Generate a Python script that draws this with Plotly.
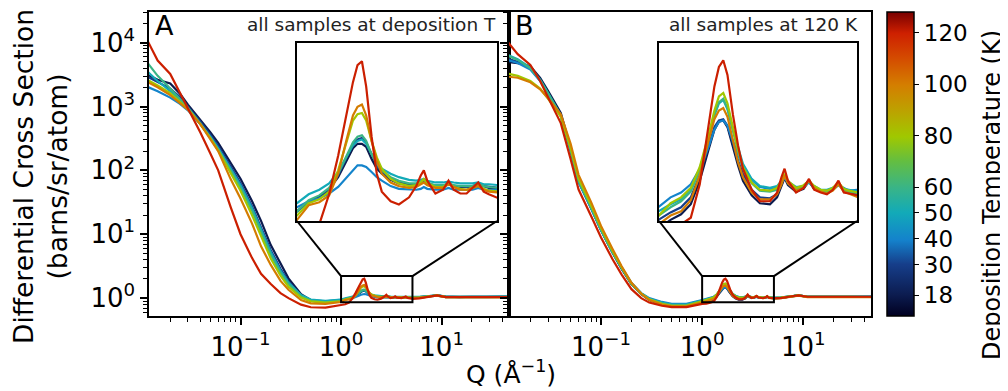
import plotly.graph_objects as go
from plotly.colors import sample_colorscale

# ---------------- data ----------------
temperatures_K = [18, 30, 40, 50, 60, 80, 100, 120]

q_inv_angstrom = [0.0118, 0.015, 0.02, 0.025, 0.03, 0.04, 0.05, 0.06, 0.08, 0.1,
                  0.13, 0.16, 0.2, 0.25, 0.3, 0.4, 0.5, 0.7, 1.0,
                  1.1, 1.2, 1.3, 1.4, 1.5, 1.58, 1.64, 1.7, 1.76, 1.84, 1.92, 2.0,
                  2.15, 2.3, 2.5, 2.65, 2.75, 2.82, 2.9, 3.1, 3.3, 3.45, 3.6, 3.8,
                  4.0, 4.2, 4.4, 4.6, 4.8, 5.2,
                  6.0, 8.0, 9.0, 11, 15, 20, 28, 50]

# Panel A: all samples measured at their deposition temperature
A_18K = [3160, 2630, 2290, 1580, 1070, 617, 398, 269, 132, 74.1, 33.1, 16.2, 6.76, 3.39, 2.04, 1.15, 0.93, 0.85, 0.91,
         0.96, 0.985, 1.025, 1.09, 1.19, 1.27, 1.30, 1.30, 1.28, 1.20, 1.14, 1.11, 1.075, 1.055, 1.045, 1.045, 1.055, 1.06,
         1.05, 1.04, 1.04, 1.05, 1.04, 1.035, 1.035, 1.04, 1.045, 1.04, 1.03, 1.025,
         1.03, 1.08, 1.10, 1.05, 1.04, 1.05, 1.05, 1.06]
A_30K = [2950, 2400, 1910, 1410, 1000, 575, 363, 240, 115, 63.1, 27.5, 13.2, 5.62, 2.88, 1.82, 1.10, 0.91, 0.85, 0.91,
         0.955, 0.975, 1.02, 1.10, 1.21, 1.30, 1.33, 1.34, 1.31, 1.23, 1.16, 1.12, 1.08, 1.06, 1.05, 1.05, 1.055, 1.07,
         1.055, 1.04, 1.04, 1.055, 1.04, 1.04, 1.035, 1.04, 1.05, 1.04, 1.035, 1.03,
         1.04, 1.09, 1.10, 1.06, 1.04, 1.05, 1.05, 1.05]
A_40K = [2040, 1740, 1380, 1100, 871, 525, 339, 224, 107, 58.9, 25.7, 12.3, 5.25, 2.69, 1.74, 1.10, 0.93, 0.89, 0.93,
         0.96, 0.975, 1.00, 1.035, 1.09, 1.13, 1.16, 1.16, 1.15, 1.12, 1.09, 1.07, 1.04, 1.025, 1.02, 1.02, 1.025, 1.035,
         1.025, 1.02, 1.02, 1.03, 1.02, 1.02, 1.02, 1.02, 1.03, 1.02, 1.02, 1.02,
         1.02, 1.07, 1.09, 1.04, 1.03, 1.04, 1.04, 1.05]
A_50K = [3550, 2510, 1740, 1260, 933, 525, 331, 219, 105, 57.5, 25.1, 12.0, 5.13, 2.63, 1.74, 1.12, 0.95, 0.91, 0.95,
         0.996, 1.02, 1.055, 1.12, 1.21, 1.29, 1.32, 1.33, 1.30, 1.23, 1.18, 1.14, 1.11, 1.09, 1.075, 1.07, 1.075, 1.08,
         1.07, 1.06, 1.06, 1.065, 1.06, 1.055, 1.055, 1.055, 1.06, 1.05, 1.05, 1.045,
         1.05, 1.09, 1.11, 1.06, 1.05, 1.06, 1.05, 1.06]
A_60K = [4900, 3020, 1910, 1320, 955, 537, 331, 214, 100, 53.7, 23.4, 11.2, 4.79, 2.51, 1.66, 1.07, 0.91, 0.87, 0.91,
         0.965, 0.99, 1.03, 1.11, 1.22, 1.31, 1.35, 1.36, 1.32, 1.23, 1.17, 1.13, 1.09, 1.07, 1.055, 1.055, 1.07, 1.075,
         1.06, 1.045, 1.045, 1.055, 1.045, 1.04, 1.04, 1.04, 1.05, 1.04, 1.035, 1.03,
         1.04, 1.08, 1.10, 1.05, 1.04, 1.05, 1.05, 1.05]
A_80K = [2630, 2140, 1620, 1200, 912, 525, 324, 204, 91.2, 47.9, 20.0, 9.33, 4.17, 2.24, 1.51, 1.02, 0.89, 0.85, 0.89,
         0.95, 0.97, 1.01, 1.13, 1.32, 1.47, 1.52, 1.53, 1.47, 1.32, 1.21, 1.14, 1.08, 1.055, 1.04, 1.045, 1.06, 1.08,
         1.055, 1.035, 1.035, 1.055, 1.035, 1.025, 1.02, 1.03, 1.045, 1.025, 1.015, 1.01,
         1.02, 1.08, 1.10, 1.04, 1.03, 1.04, 1.04, 1.04]
A_100K = [2450, 2000, 1510, 1150, 891, 525, 316, 200, 72.4, 36.3, 14.8, 6.46, 3.31, 1.86, 1.35, 0.93, 0.83, 0.81, 0.87,
          0.94, 0.955, 0.99, 1.11, 1.33, 1.51, 1.58, 1.60, 1.51, 1.32, 1.19, 1.11, 1.06, 1.04, 1.03, 1.035, 1.05, 1.06,
          1.045, 1.03, 1.03, 1.05, 1.035, 1.02, 1.02, 1.03, 1.04, 1.02, 1.01, 1.005,
          1.01, 1.07, 1.09, 1.04, 1.03, 1.04, 1.04, 1.04]
A_120K = [11000, 5250, 3240, 1660, 955, 389, 186, 100, 26.3, 10.0, 4.27, 2.40, 1.66, 1.20, 1.00, 0.79, 0.72, 0.71, 0.78,
          0.80, 0.85, 0.996, 1.22, 1.52, 1.80, 1.97, 2.01, 1.76, 1.35, 1.11, 1.01, 0.96, 0.944, 0.98, 1.04, 1.10, 1.13,
          1.07, 1.00, 1.02, 1.07, 1.02, 1.00, 1.00, 1.03, 1.06, 1.01, 0.996, 0.975,
          0.99, 1.07, 1.10, 1.04, 1.03, 1.04, 1.04, 1.04]

# Panel B: all samples measured at 120 K
B_18K = [5010, 4790, 4270, 2820, 1740, 794, 229, 72.4, 26.3, 11.7, 5.25, 2.88, 1.66, 1.15, 0.933, 0.794, 0.741, 0.741, 0.832,
         0.87, 0.896, 0.945, 1.07, 1.25, 1.40, 1.46, 1.47, 1.42, 1.28, 1.16, 1.07, 0.99, 0.95, 0.945, 0.98, 1.04, 1.085,
         1.045, 1.01, 1.025, 1.07, 1.025, 1.01, 1.005, 1.02, 1.055, 1.015, 1.005, 0.99,
         1.01, 1.08, 1.10, 1.05, 1.04, 1.05, 1.05, 1.05]
B_30K = [5620, 5010, 3980, 2570, 1580, 724, 209, 66.1, 25.1, 11.5, 5.13, 2.88, 1.66, 1.17, 0.955, 0.813, 0.759, 0.759, 0.871,
         0.905, 0.93, 0.98, 1.10, 1.28, 1.42, 1.47, 1.48, 1.43, 1.30, 1.19, 1.11, 1.02, 0.98, 0.975, 0.996, 1.05, 1.09,
         1.055, 1.015, 1.03, 1.065, 1.025, 1.01, 1.005, 1.02, 1.05, 1.02, 1.01, 1.00,
         1.01, 1.08, 1.10, 1.05, 1.04, 1.05, 1.05, 1.05]
B_40K = [5370, 4790, 3800, 2510, 1550, 708, 200, 66.1, 25.7, 11.7, 5.37, 3.02, 1.74, 1.20, 1.00, 0.871, 0.813, 0.813, 0.933,
         0.98, 1.005, 1.05, 1.14, 1.27, 1.40, 1.46, 1.47, 1.43, 1.32, 1.23, 1.15, 1.075, 1.035, 1.025, 1.035, 1.06, 1.085,
         1.06, 1.03, 1.035, 1.06, 1.03, 1.015, 1.01, 1.02, 1.045, 1.03, 1.015, 1.02,
         1.03, 1.08, 1.10, 1.05, 1.04, 1.05, 1.05, 1.06]
B_50K = [6460, 5500, 4070, 2630, 1620, 724, 209, 67.6, 25.7, 11.7, 5.25, 2.95, 1.70, 1.17, 0.977, 0.851, 0.794, 0.794, 0.912,
         0.945, 0.97, 1.025, 1.14, 1.32, 1.51, 1.61, 1.64, 1.56, 1.40, 1.27, 1.17, 1.08, 1.04, 1.03, 1.04, 1.07, 1.095,
         1.065, 1.035, 1.04, 1.065, 1.04, 1.02, 1.02, 1.03, 1.05, 1.025, 1.02, 1.01,
         1.02, 1.08, 1.10, 1.05, 1.04, 1.05, 1.05, 1.05]
B_60K = [6310, 5370, 3980, 2570, 1580, 724, 214, 69.2, 26.3, 11.7, 5.25, 2.95, 1.66, 1.17, 0.955, 0.832, 0.776, 0.776, 0.891,
         0.93, 0.96, 1.01, 1.13, 1.32, 1.52, 1.62, 1.65, 1.57, 1.40, 1.25, 1.15, 1.055, 1.015, 1.01, 1.02, 1.065, 1.10,
         1.06, 1.025, 1.04, 1.07, 1.035, 1.015, 1.01, 1.025, 1.055, 1.02, 1.01, 1.00,
         1.02, 1.08, 1.10, 1.05, 1.04, 1.05, 1.05, 1.05]
B_80K = [3310, 3020, 2510, 1910, 1320, 692, 224, 74.1, 28.2, 12.6, 5.50, 3.02, 1.70, 1.17, 0.955, 0.813, 0.759, 0.759, 0.891,
         0.95, 0.98, 1.03, 1.15, 1.35, 1.55, 1.67, 1.70, 1.61, 1.42, 1.26, 1.15, 1.06, 1.02, 1.015, 1.03, 1.07, 1.11,
         1.07, 1.03, 1.045, 1.07, 1.04, 1.02, 1.015, 1.03, 1.06, 1.025, 1.015, 1.005,
         1.02, 1.08, 1.10, 1.05, 1.04, 1.05, 1.05, 1.04]
B_100K = [2950, 2820, 2400, 1860, 1350, 759, 263, 85.1, 31.6, 13.5, 5.89, 3.16, 1.74, 1.17, 0.933, 0.794, 0.741, 0.741, 0.851,
          0.89, 0.91, 0.965, 1.10, 1.31, 1.48, 1.55, 1.57, 1.50, 1.32, 1.18, 1.09, 1.005, 0.97, 0.97, 0.996, 1.05, 1.10,
          1.055, 1.015, 1.03, 1.07, 1.03, 1.01, 1.00, 1.015, 1.05, 1.01, 1.00, 0.98,
          1.00, 1.07, 1.09, 1.04, 1.03, 1.04, 1.04, 1.04]
B_120K = [10500, 6610, 4470, 2510, 1380, 550, 151, 50.1, 19.1, 8.91, 4.07, 2.34, 1.38, 1.00, 0.851, 0.759, 0.724, 0.724, 0.813,
          0.82, 0.85, 0.88, 1.05, 1.43, 1.76, 1.95, 2.02, 1.87, 1.52, 1.29, 1.14, 1.02, 0.96, 0.96, 1.005, 1.09, 1.14,
          1.07, 1.005, 1.03, 1.08, 1.02, 1.005, 0.996, 1.02, 1.07, 1.005, 1.00, 0.99,
          1.00, 1.08, 1.10, 1.05, 1.04, 1.05, 1.05, 1.05]

panel_A_series = [A_18K, A_30K, A_40K, A_50K, A_60K, A_80K, A_100K, A_120K]
panel_B_series = [B_18K, B_30K, B_40K, B_50K, B_60K, B_80K, B_100K, B_120K]

colorbar_ticks = [18, 30, 40, 50, 60, 80, 100, 120]
panel_labels = ["A", "B"]
panel_notes = ["all samples at deposition T", "all samples at 120 K"]

# ---------------- styling ----------------
FONT = "DejaVu Sans"
cmin, cmax = 10, 128
colorscale = [
    [0.00, "rgb(0,0,32)"],
    [0.07, "rgb(12,28,80)"],
    [0.17, "rgb(22,62,138)"],
    [0.25, "rgb(20,130,204)"],
    [0.34, "rgb(18,170,184)"],
    [0.42, "rgb(56,180,136)"],
    [0.51, "rgb(100,190,64)"],
    [0.59, "rgb(160,200,0)"],
    [0.68, "rgb(190,160,0)"],
    [0.76, "rgb(212,126,0)"],
    [0.85, "rgb(212,74,0)"],
    [0.93, "rgb(206,32,0)"],
    [1.00, "rgb(120,0,0)"],
]


def temp_color(t):
    return sample_colorscale(colorscale, [(t - cmin) / (cmax - cmin)])[0]


# the page body adds an 8 px offset; the figure is sized so the plot area lands at
# screen x 149..871, y 12..316
PAGE_OFFSET = 8
PLOT_L, PLOT_T, PLOT_W, PLOT_H = 149, 12, 722, 304
FIG_W, FIG_H = 1008 - PAGE_OFFSET, 391 - PAGE_OFFSET


def px_x(xs):
    return (xs - PLOT_L) / PLOT_W


def px_y(ys):
    return (PLOT_T + PLOT_H - ys) / PLOT_H


x_range_log = [-1.91, 1.67]
y_range_log = [-0.28, 4.48]
inset_x_log = [0.0, 0.71]
inset_y_log = [-0.063, 0.345]

dom_A = [0.0, px_x(509)]
dom_B = [px_x(509), 1.0]
dom_y = [0.0, 1.0]
inset_A_x = [px_x(297), px_x(497)]
inset_B_x = [px_x(659), px_x(857)]
inset_y = [px_y(221), px_y(43)]

fig = go.Figure()

for axes_main, axes_inset, series in [(("x", "y"), ("x3", "y3"), panel_A_series),
                                       (("x2", "y2"), ("x4", "y4"), panel_B_series)]:
    for t, vals in zip(temperatures_K, series):
        for ax in (axes_main, axes_inset):
            fig.add_trace(go.Scatter(
                x=q_inv_angstrom, y=vals, mode="lines",
                line=dict(color=temp_color(t), width=2.2),
                xaxis=ax[0], yaxis=ax[1], showlegend=False, hoverinfo="skip"))

# colour bar carrier trace
fig.add_trace(go.Scatter(
    x=[None], y=[None], mode="markers", xaxis="x", yaxis="y", showlegend=False,
    marker=dict(color=[cmin, cmax], cmin=cmin, cmax=cmax, colorscale=colorscale, showscale=True,
                colorbar=dict(x=px_x(887), xanchor="left", xref="paper", y=0.5, yanchor="middle",
                              len=1.0, lenmode="fraction", thickness=27, outlinecolor="black", outlinewidth=1.5,
                              tickmode="array", tickvals=colorbar_ticks, ticks="outside", ticklen=5,
                              tickcolor="black", tickfont=dict(family=FONT, size=23, color="black"),
                              ypad=0, xpad=0))))

major_vals_x = [0.1, 1, 10]
major_text_x = ["10<sup>\u22121</sup>", "10<sup>0</sup>", "10<sup>1</sup>"]
minor_x = [d * 10.0 ** k for k in range(-2, 2) for d in range(2, 10)]
major_vals_y = [1, 10, 100, 1000, 10000]
major_text_y = ["10<sup>%d</sup>" % k for k in range(5)]
minor_y = [d * 10.0 ** k for k in range(-1, 5) for d in range(2, 10)]

common_axis = dict(type="log", showgrid=False, zeroline=False, showline=True, linecolor="black",
                   linewidth=1.5, mirror=True, ticks="outside", ticklen=7, tickwidth=1.5, tickcolor="black",
                   tickfont=dict(family=FONT, size=26, color="black"))

xmain = dict(common_axis, range=x_range_log, tickmode="array", tickvals=major_vals_x, ticktext=major_text_x,
             minor=dict(tickmode="array", tickvals=minor_x, ticks="outside", ticklen=4, tickwidth=1, tickcolor="black"))
ymain = dict(common_axis, range=y_range_log, tickmode="array", tickvals=major_vals_y, ticktext=major_text_y,
             minor=dict(tickmode="array", tickvals=minor_y, ticks="outside", ticklen=4, tickwidth=1, tickcolor="black"))

inset_axis = dict(type="log", showgrid=False, zeroline=False, showline=True, linecolor="black", linewidth=2,
                  mirror=True, ticks="", showticklabels=False)

fig.update_layout(
    width=FIG_W, height=FIG_H,
    margin=dict(l=PLOT_L - PAGE_OFFSET, t=PLOT_T - PAGE_OFFSET,
                r=FIG_W - (PLOT_L - PAGE_OFFSET) - PLOT_W,
                b=FIG_H - (PLOT_T - PAGE_OFFSET) - PLOT_H, autoexpand=False),
    paper_bgcolor="white", plot_bgcolor="white",
    font=dict(family=FONT, color="black"),
    xaxis=dict(xmain, domain=dom_A, anchor="y"),
    yaxis=dict(ymain, domain=dom_y, anchor="x"),
    xaxis2=dict(xmain, domain=dom_B, anchor="y2"),
    yaxis2=dict(ymain, domain=dom_y, anchor="x2", showticklabels=False),
    xaxis3=dict(inset_axis, domain=inset_A_x, anchor="y3", range=inset_x_log),
    yaxis3=dict(inset_axis, domain=inset_y, anchor="x3", range=inset_y_log),
    xaxis4=dict(inset_axis, domain=inset_B_x, anchor="y4", range=inset_x_log),
    yaxis4=dict(inset_axis, domain=inset_y, anchor="x4", range=inset_y_log),
)


def to_paper(val_log, rng, dom):
    return dom[0] + (val_log - rng[0]) / (rng[1] - rng[0]) * (dom[1] - dom[0])


shapes = []
for dom_main, ins_x in [(dom_A, inset_A_x), (dom_B, inset_B_x)]:
    bx0 = to_paper(inset_x_log[0], x_range_log, dom_main)
    bx1 = to_paper(inset_x_log[1], x_range_log, dom_main)
    by0 = to_paper(inset_y_log[0], y_range_log, dom_y)
    by1 = to_paper(inset_y_log[1], y_range_log, dom_y)
    ln = dict(color="black", width=2)
    shapes.append(dict(type="rect", xref="paper", yref="paper", x0=bx0, x1=bx1, y0=by0, y1=by1, line=ln))
    shapes.append(dict(type="line", xref="paper", yref="paper", x0=ins_x[0], y0=inset_y[0], x1=bx0, y1=by1, line=ln))
    shapes.append(dict(type="line", xref="paper", yref="paper", x0=ins_x[1], y0=inset_y[0], x1=bx1, y1=by1, line=ln))
fig.update_layout(shapes=shapes)

annotations = []
for dom_main, lab, note in [(dom_A, panel_labels[0], panel_notes[0]), (dom_B, panel_labels[1], panel_notes[1])]:
    annotations.append(dict(xref="paper", yref="paper", x=dom_main[0] + px_x(153) - px_x(149), y=px_y(8),
                            xanchor="left", yanchor="top", showarrow=False,
                            text=lab, font=dict(family=FONT, size=27, color="black")))
    annotations.append(dict(xref="paper", yref="paper", x=dom_main[1] - (px_x(509) - px_x(498)), y=px_y(12),
                            xanchor="right", yanchor="top", showarrow=False,
                            text=note, font=dict(family=FONT, size=18.5, color="#222")))
annotations.append(dict(xref="paper", yref="paper", x=px_x(40), y=px_y(177), textangle=-90,
                        showarrow=False, xanchor="center", yanchor="middle",
                        text="Differential Cross Section<br>(barns/sr/atom)",
                        font=dict(family=FONT, size=26.5, color="black")))
annotations.append(dict(xref="paper", yref="paper", x=px_x(511), y=px_y(372),
                        showarrow=False, xanchor="center", yanchor="middle",
                        text="Q (\u00c5<sup>\u22121</sup>)", font=dict(family=FONT, size=25, color="black")))
annotations.append(dict(xref="paper", yref="paper", x=px_x(992), y=px_y(195), textangle=-90,
                        showarrow=False, xanchor="center", yanchor="middle",
                        text="Deposition Temperature (K)", font=dict(family=FONT, size=24, color="black")))
fig.update_layout(annotations=annotations)

fig.write_html("out.html")
